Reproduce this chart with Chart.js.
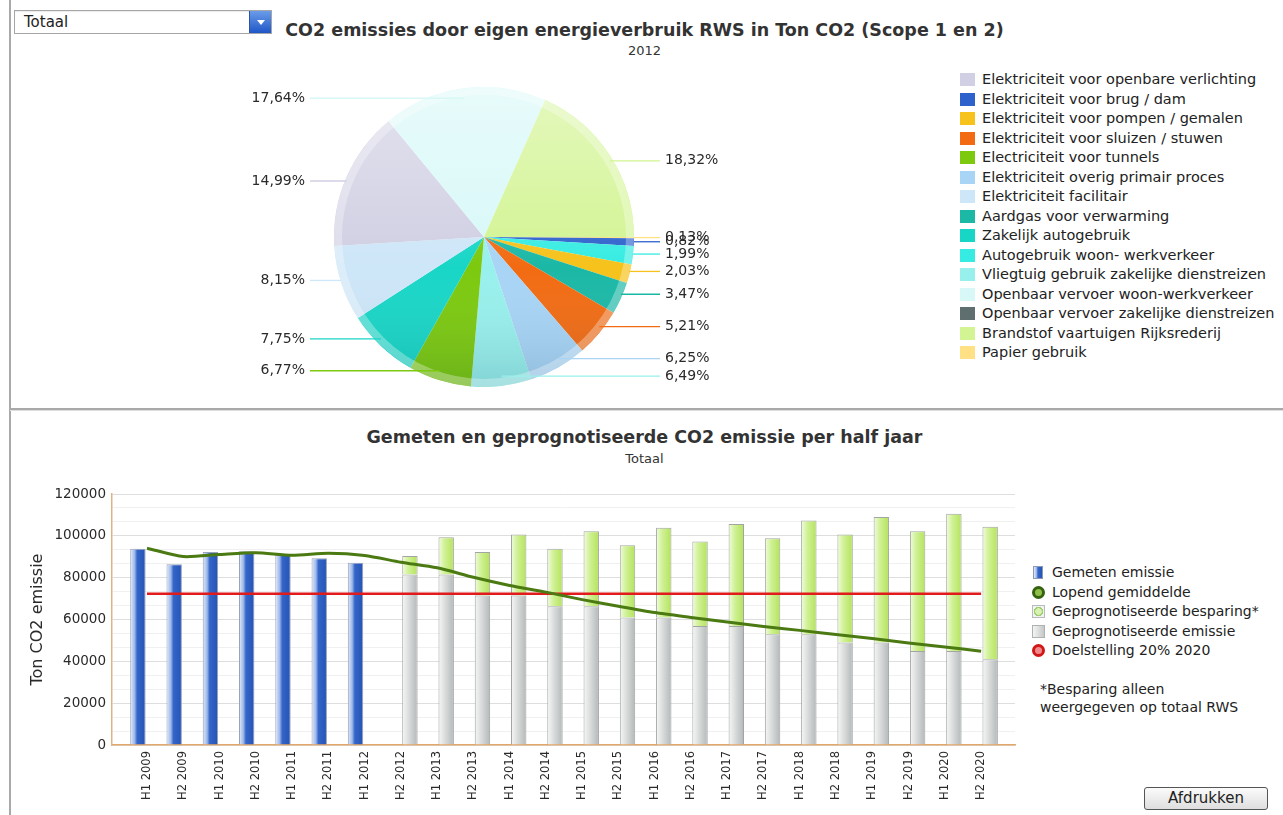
<!DOCTYPE html>
<html>
<head>
<meta charset="utf-8">
<script src="https://cdn.jsdelivr.net/npm/chart.js@4.4.1/dist/chart.umd.min.js"></script>
<style>
  html, body { margin:0; padding:0; background:#fff; width:1283px; height:815px; overflow:hidden; font-family:"DejaVu Sans", Verdana, sans-serif; color:#333; }
  .abs { position:absolute; }
  #vline { left:9px; top:0; width:2px; height:815px; background:#a9a9a9; }
  #hsep { left:10px; top:408px; width:1273px; height:2px; background:#a9a9a9; border-bottom:1px solid #dedede; }
  #select { left:14px; top:10px; width:256px; height:22px; border:1px solid #a6a6a6; background:#fff; box-shadow: inset 0 1px 1px rgba(0,0,0,0.08); }
  #select span { position:absolute; left:9px; top:1px; font-size:15px; line-height:20px; color:#222; }
  #select .btn { position:absolute; right:0; top:0; width:21px; height:22px; background:linear-gradient(#6b9cea,#1f56c6); border-left:1px solid #2a55a8; }
  #select .btn:after { content:""; position:absolute; left:7px; top:9px; border-left:4px solid transparent; border-right:4px solid transparent; border-top:5px solid #fff; }
  .title { left:12px; width:1265px; text-align:center; font-weight:bold; font-size:17.5px; line-height:20px; color:#333; white-space:nowrap; }
  .subtitle { left:12px; width:1265px; text-align:center; font-size:13px; line-height:16px; color:#333; }
  #pieLegend { left:960px; top:70px; width:317px; overflow:hidden; white-space:nowrap; }
  #pieLegend .row { position:relative; height:19.5px; font-size:14.5px; line-height:19.5px; color:#222; }
  #pieLegend .sw { position:absolute; left:0; top:3px; width:15px; height:13px; }
  #pieLegend .tx { position:absolute; left:22px; top:0; }
  #barLegend { left:1030px; top:563px; width:253px; white-space:nowrap; }
  #barLegend .row { position:relative; height:19.5px; font-size:14px; line-height:19.5px; color:#222; }
  #barLegend .ic { position:absolute; left:2px; top:3px; width:12px; height:13px; box-sizing:border-box; }
  #barLegend .tx { position:absolute; left:22px; top:0; }
  #note { left:1040px; top:680px; font-size:14px; line-height:18px; color:#222; white-space:nowrap; }
  #print { left:1144px; top:787px; width:124px; height:23px; box-sizing:border-box; border:1px solid #555; border-radius:3px; background:linear-gradient(#fbfbfb,#dedede); font-size:15px; line-height:21px; text-align:center; color:#222; }
</style>
</head>
<body>
<div id="vline" class="abs"></div>
<div id="hsep" class="abs"></div>
<div id="select" class="abs"><span>Totaal</span><div class="btn"></div></div>

<div class="abs title" style="top:20px;">CO2 emissies door eigen energieverbruik RWS in Ton CO2 (Scope 1 en 2)</div>
<div class="abs subtitle" style="top:43px;">2012</div>
<canvas id="pie" class="abs" width="560" height="345" style="left:200px; top:60px;"></canvas>
<div id="pieLegend" class="abs"></div>

<div class="abs title" style="top:427px;">Gemeten en geprognotiseerde CO2 emissie per half jaar</div>
<div class="abs subtitle" style="top:451px;">Totaal</div>
<canvas id="bars" class="abs" width="1010" height="335" style="left:12px; top:475px;"></canvas>
<div id="barLegend" class="abs"></div>
<div id="note" class="abs">*Besparing alleen<br>weergegeven op totaal RWS</div>
<div id="print" class="abs">Afdrukken</div>

<script>
// ---------------- DATA ----------------
const pieYear = '2012';
const pieCategories = [
  'Elektriciteit voor openbare verlichting',
  'Elektriciteit voor brug / dam',
  'Elektriciteit voor pompen / gemalen',
  'Elektriciteit voor sluizen / stuwen',
  'Electriciteit voor tunnels',
  'Elektriciteit overig primair proces',
  'Elektriciteit facilitair',
  'Aardgas voor verwarming',
  'Zakelijk autogebruik',
  'Autogebruik woon- werkverkeer',
  'Vliegtuig gebruik zakelijke dienstreizen',
  'Openbaar vervoer woon-werkverkeer',
  'Openbaar vervoer zakelijke dienstreizen',
  'Brandstof vaartuigen Rijksrederij',
  'Papier gebruik'
];
const piePercent = [14.99, 0.82, 2.03, 5.21, 6.77, 6.25, 8.15, 3.47, 7.75, 1.99, 6.49, 17.64, 0, 18.32, 0.13];
const pieColors = [
  '#d0cfe3', '#2d62cc', '#f6c21b', '#f26b12', '#7cc90e', '#a8d4f5', '#cde6f8', '#1bb8a6',
  '#18d6c6', '#36ece2', '#98f0ec', '#d8f8f8', '#5f6f6f', '#d2f492', '#ffe084'
];

const periods = ['H1 2009','H2 2009','H1 2010','H2 2010','H1 2011','H2 2011','H1 2012','H2 2012',
  'H1 2013','H2 2013','H1 2014','H2 2014','H1 2015','H2 2015','H1 2016','H2 2016',
  'H1 2017','H2 2017','H1 2018','H2 2018','H1 2019','H2 2019','H1 2020','H2 2020'];
const gemetenEmissie = [93800, 86400, 92300, 92600, 90800, 89300, 87100,
  null, null, null, null, null, null, null, null, null, null, null, null, null, null, null, null, null];
const geprognotiseerdeEmissie = [null, null, null, null, null, null, null,
  81500, 81500, 71500, 71500, 66300, 66300, 60900, 60900, 56900, 56900, 52900, 52900, 49000, 49000, 45000, 45000, 41000];
const geprognotiseerdeBesparing = [null, null, null, null, null, null, null,
  8900, 17800, 20800, 29100, 27500, 35900, 34600, 43000, 40400, 48800, 45900, 54400, 51600, 60000, 57200, 65600, 63400];
const lopendGemiddelde = [94100, 90100, 91100, 91900, 90700, 91700, 90600, 87400, 84700, 80200, 76300, 73100,
  69500, 66300, 63300, 61000, 58800, 56700, 54800, 52800, 50900, 48800, 46900, 44800];
const doelstelling2020 = 72300;
const yTickValues = [0, 20000, 40000, 60000, 80000, 100000, 120000];

const barLegendItems = [
  {text:'Gemeten emissie', icon:'gemeten'},
  {text:'Lopend gemiddelde', icon:'lopend'},
  {text:'Geprognotiseerde besparing*', icon:'besparing'},
  {text:'Geprognotiseerde emissie', icon:'emissie'},
  {text:'Doelstelling 20% 2020', icon:'doel'}
];

// ---------------- PIE ----------------
const FONT = '"DejaVu Sans", Verdana, sans-serif';
const order = piePercent.map((v,i)=>i).filter(i=>piePercent[i] > 0).sort((a,b)=>piePercent[a]-piePercent[b]);
const fmtPct = v => v.toFixed(2).replace('.', ',') + '%';

const pieDeco = {
  id: 'pieDeco',
  afterDatasetsDraw(chart) {
    const meta = chart.getDatasetMeta(0);
    const ds = chart.data.datasets[0];
    const ctx = chart.ctx;
    const a0 = meta.data[0];
    const cx = a0.x, cy = a0.y, R = a0.outerRadius;
    ctx.save();
    ctx.beginPath(); ctx.arc(cx, cy, R, 0, Math.PI*2); ctx.clip();
    const g = ctx.createLinearGradient(0, cy-R, 0, cy+R);
    g.addColorStop(0, 'rgba(255,255,255,0.40)');
    g.addColorStop(0.45, 'rgba(255,255,255,0.10)');
    g.addColorStop(0.6, 'rgba(255,255,255,0)');
    g.addColorStop(1, 'rgba(0,40,70,0.15)');
    ctx.fillStyle = g;
    ctx.fillRect(cx-R, cy-R, 2*R, 2*R);
    ctx.beginPath(); ctx.arc(cx, cy, R-4, 0, Math.PI*2);
    ctx.lineWidth = 8; ctx.strokeStyle = 'rgba(255,255,255,0.30)'; ctx.stroke();
    ctx.restore();
    ctx.save();
    ctx.font = '14px ' + FONT;
    ctx.textBaseline = 'middle';
    meta.data.forEach((arc, i) => {
      const mid = (arc.startAngle + arc.endAngle) / 2;
      const ly = cy + (R - 10) * Math.sin(mid);
      const ex = cx + R * Math.cos(mid);
      const right = Math.cos(mid) >= 0;
      ctx.strokeStyle = ds.backgroundColor[i];
      ctx.lineWidth = 1.3;
      ctx.beginPath();
      ctx.moveTo(ex, ly);
      ctx.lineTo(right ? cx + 176 : cx - 174, ly);
      ctx.stroke();
      ctx.fillStyle = '#2a2a2a';
      ctx.textAlign = right ? 'left' : 'right';
      ctx.fillText(fmtPct(ds.data[i]), right ? cx + 181 : cx - 179, ly);
    });
    ctx.restore();
  }
};

new Chart(document.getElementById('pie'), {
  type: 'pie',
  data: {
    labels: order.map(i => pieCategories[i]),
    datasets: [{
      data: order.map(i => piePercent[i]),
      backgroundColor: order.map(i => pieColors[i]),
      borderWidth: 0,
      hoverOffset: 0
    }]
  },
  options: {
    responsive: false,
    animation: false,
    radius: 150,
    rotation: 90,
    layout: { padding: { left: 134, right: 126, top: 27, bottom: 18 } },
    plugins: { legend: { display: false }, tooltip: { enabled: false } }
  },
  plugins: [pieDeco]
});

const pl = document.getElementById('pieLegend');
pieCategories.forEach((name, i) => {
  const r = document.createElement('div'); r.className = 'row';
  r.innerHTML = '<div class="sw" style="background:' + pieColors[i] + '"></div><div class="tx"></div>';
  r.querySelector('.tx').textContent = name;
  pl.appendChild(r);
});

// ---------------- BARS ----------------
function barGradient(context, stops, side) {
  const chart = context.chart;
  const xs = chart.scales.x;
  const fallback = stops[Math.floor(stops.length/2)][1];
  if (!xs || context.dataIndex == null) return fallback;
  const px = xs.getPixelForValue(context.dataIndex);
  const half = Math.abs(xs.getPixelForValue(1) - xs.getPixelForValue(0)) / 2;
  if (!isFinite(px) || !isFinite(half) || half <= 0) return fallback;
  const x0 = side < 0 ? px - half : px;
  const g = chart.ctx.createLinearGradient(x0 + half*0.08, 0, x0 + half*0.92, 0);
  stops.forEach(s => g.addColorStop(s[0], s[1]));
  return g;
}
const blueStops = [[0,'#e4ecfa'],[0.28,'#9db8ea'],[0.45,'#3565c8'],[1,'#2553b6']];
const grayStops = [[0,'#f6f6f6'],[0.4,'#dcdede'],[1,'#b4b8b8']];
const greenStops = [[0,'#f0fcdc'],[0.4,'#d0f196'],[1,'#b4e35c']];

new Chart(document.getElementById('bars'), {
  type: 'bar',
  data: {
    labels: periods,
    datasets: [
      { label: 'Lopend gemiddelde', type: 'line', data: lopendGemiddelde, stack: 'avg', order: 0,
        borderColor: '#4b7a12', borderWidth: 3, pointRadius: 0, tension: 0.25, fill: false },
      { label: 'Doelstelling 20% 2020', type: 'line', stack: 'goal', order: 0,
        data: [{x: periods[0], y: doelstelling2020}, {x: periods[periods.length-1], y: doelstelling2020}],
        borderColor: '#e11b1b', borderWidth: 2.5, pointRadius: 0, fill: false },
      { label: 'Gemeten emissie', data: gemetenEmissie, stack: 'gemeten', order: 2,
        backgroundColor: c => barGradient(c, blueStops, -1), borderColor: '#98a2b8', borderWidth: 1,
        categoryPercentage: 1.0, barPercentage: 0.85 },
      { label: 'Geprognotiseerde emissie', data: geprognotiseerdeEmissie, stack: 'prognose', order: 2,
        backgroundColor: c => barGradient(c, grayStops, 1), borderColor: '#a3a5a5', borderWidth: 1,
        categoryPercentage: 1.0, barPercentage: 0.85 },
      { label: 'Geprognotiseerde besparing*', data: geprognotiseerdeBesparing, stack: 'prognose', order: 2,
        backgroundColor: c => barGradient(c, greenStops, 1), borderColor: '#a3a5a5', borderWidth: 1,
        categoryPercentage: 1.0, barPercentage: 0.85 }
    ]
  },
  options: {
    responsive: false,
    animation: false,
    layout: { padding: { left: 0, right: 7, top: 19, bottom: 0 } },
    plugins: { legend: { display: false }, tooltip: { enabled: false } },
    scales: {
      x: {
        type: 'category',
        offset: true,
        grid: { display: false, drawTicks: false },
        border: { display: true, color: '#e2a76a', width: 1.5 },
        ticks: { autoSkip: false, minRotation: 90, maxRotation: 90, padding: 6, color: '#2a2a2a',
                 font: { family: FONT, size: 11.5 } },
        afterBuildTicks: s => { s._startValue = -0.965; s._valueRange = 24.9; },
        afterFit: s => { s.height = 65; }
      },
      y: {
        stacked: true,
        min: 0, max: 120000,
        grid: { drawTicks: false, lineWidth: 1,
                color: c => (c.tick && yTickValues.includes(c.tick.value)) ? '#dedede' : '#f0f0f0' },
        border: { display: true, color: '#ddb38a', width: 1.5 },
        ticks: { autoSkip: false, padding: 6, color: '#2a2a2a', font: { family: FONT, size: 13.5 },
                 callback: v => yTickValues.includes(v) ? String(v) : '' },
        afterBuildTicks: s => {
          const t = [];
          for (let i = 0; i < yTickValues.length; i++) {
            t.push({ value: yTickValues[i] });
            if (i < yTickValues.length - 1) {
              const d = (yTickValues[i+1] - yTickValues[i]) / 3;
              t.push({ value: yTickValues[i] + d }, { value: yTickValues[i] + 2*d });
            }
          }
          s.ticks = t;
        },
        afterFit: s => { s.width = 100; },
        title: { display: true, text: 'Ton CO2 emissie', color: '#2a2a2a',
                 font: { family: FONT, size: 16 }, padding: { top: 16, bottom: 0 } }
      }
    }
  }
});

const iconStyle = {
  gemeten: 'width:10px;left:3px;border:1px solid #8d98b4;background:linear-gradient(90deg,#e4ecfa 0%,#9db8ea 30%,#3565c8 50%,#2553b6 100%);',
  lopend: 'border-radius:50%;width:13px;height:13px;border:3px solid #35620e;background:#8fbf48;',
  besparing: 'width:13px;height:13px;border:1px solid #b9bcbc;background:radial-gradient(circle,#d8f2b0 0 3px,#9fcf70 3.5px 4.5px,#f2f2f2 5px);',
  emissie: 'width:13px;height:13px;border:1px solid #b0b2b2;background:linear-gradient(90deg,#f4f4f4,#c6c8c8);',
  doel: 'border-radius:50%;width:13px;height:13px;border:3px solid #d01818;background:#f08a8a;'
};
const bl = document.getElementById('barLegend');
barLegendItems.forEach(it => {
  const r = document.createElement('div'); r.className = 'row';
  r.innerHTML = '<div class="ic" style="' + iconStyle[it.icon] + '"></div><div class="tx"></div>';
  r.querySelector('.tx').textContent = it.text;
  bl.appendChild(r);
});
</script>
</body>
</html>
